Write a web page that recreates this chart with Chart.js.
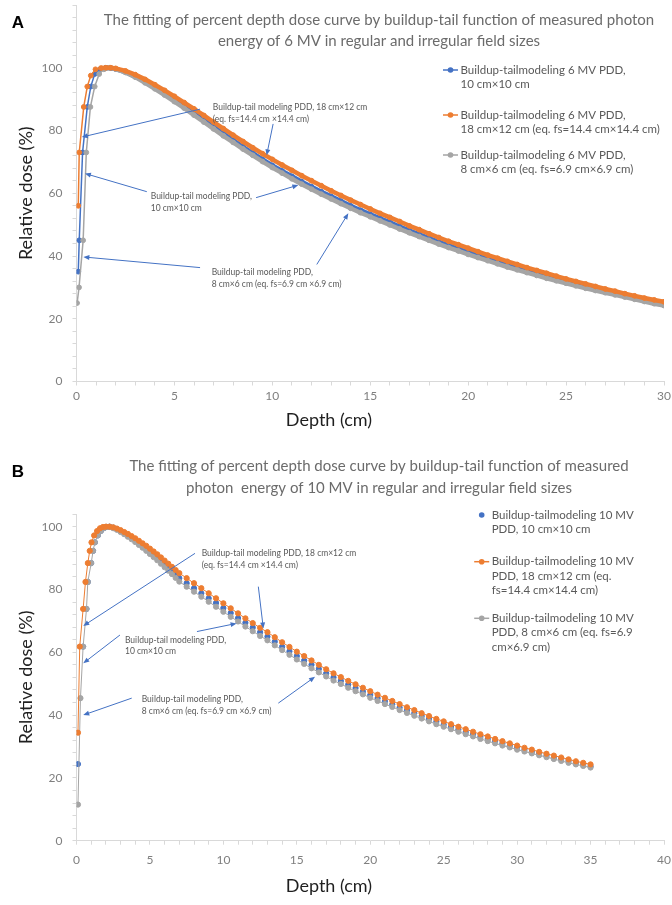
<!DOCTYPE html>
<html>
<head>
<meta charset="utf-8">
<script src="https://cdn.jsdelivr.net/npm/chart.js"></script>
<style>
  body { margin: 0; background: #fff; }
  canvas { display: block; }
</style>
</head>
<body>
<canvas id="chartA" width="672" height="445"></canvas>
<canvas id="chartB" width="672" height="460"></canvas>
<script>
// ---------- panel A : 6 MV ----------
const A_BLUE_BUILD_DEPTH = [0.09, 0.14, 0.31, 0.55, 0.73, 0.93, 1.2, 1.5, 1.75]
const A_BLUE_BUILD_DOSE = [35, 45, 73, 87.5, 94, 98, 99.5, 100, 99.9]
const A_ORANGE_BUILD_DEPTH = [0.09, 0.14, 0.37, 0.55, 0.73, 0.97, 1.25, 1.5, 1.75]
const A_ORANGE_BUILD_DOSE = [56, 73, 87.5, 94, 97.5, 99.5, 99.9, 100, 100]
const A_GRAY_BUILD_DEPTH = [0.03, 0.13, 0.34, 0.5, 0.71, 0.93, 1.16, 1.4, 1.7]
const A_GRAY_BUILD_DOSE = [25, 30, 45, 73, 87.5, 94, 98, 99.5, 100]

const A_TAIL_DEPTH = [2, 2.5, 3, 3.5, 4, 4.5, 5, 5.5, 6, 6.5, 7, 7.5, 8, 8.5, 9, 9.5, 10, 10.5, 11, 11.5,
  12, 12.5, 13, 13.5, 14, 14.5, 15, 15.5, 16, 16.5, 17, 17.5, 18, 18.5, 19, 19.5, 20, 20.5, 21, 21.5,
  22, 22.5, 23, 23.5, 24, 24.5, 25, 25.5, 26, 26.5, 27, 27.5, 28, 28.5, 29, 29.5, 30]
const A_BLUE_TAIL = [99.6, 98.6, 97.2, 95.5, 93.7, 91.8, 89.8, 87.7, 85.6, 83.4,
  81.2, 79.0, 76.9, 74.8, 72.8, 70.8, 68.9, 67.1, 65.4, 63.7,
  62.1, 60.5, 59.0, 57.5, 56.0, 54.6, 53.3, 52.0, 50.7, 49.4,
  48.1, 46.9, 45.7, 44.5, 43.4, 42.3, 41.2, 40.1, 39.1, 38.1,
  37.1, 36.2, 35.3, 34.4, 33.5, 32.6, 31.8, 31.0, 30.2, 29.4,
  28.7, 28.0, 27.3, 26.6, 25.9, 25.2, 24.6]
const A_ORANGE_TAIL = [99.8, 99.0, 97.8, 96.3, 94.6, 92.8, 90.9, 88.9, 86.9, 84.8,
  82.7, 80.6, 78.5, 76.5, 74.5, 72.6, 70.8, 69.0, 67.3, 65.6,
  64.0, 62.4, 60.8, 59.3, 57.8, 56.4, 55.0, 53.6, 52.3, 51.0,
  49.6, 48.4, 47.1, 45.9, 44.7, 43.6, 42.5, 41.4, 40.3, 39.3,
  38.3, 37.3, 36.3, 35.4, 34.5, 33.6, 32.7, 31.9, 31.1, 30.3,
  29.5, 28.8, 28.0, 27.3, 26.6, 26.0, 25.4]
const A_GRAY_TAIL = [99.6, 98.5, 97.0, 95.2, 93.3, 91.3, 89.2, 87.1, 84.9, 82.7,
  80.5, 78.3, 76.2, 74.1, 72.1, 70.1, 68.2, 66.4, 64.6, 62.9,
  61.3, 59.7, 58.2, 56.7, 55.2, 53.8, 52.5, 51.2, 49.9, 48.6,
  47.4, 46.2, 45.0, 43.8, 42.7, 41.6, 40.5, 39.5, 38.5, 37.5,
  36.5, 35.6, 34.7, 33.8, 32.9, 32.1, 31.3, 30.5, 29.7, 29.0,
  28.3, 27.6, 26.9, 26.2, 25.5, 24.8, 24.2]

// ---------- panel B : 10 MV ----------
const B_BLUE_BUILD_DEPTH = [0.1, 0.45, 0.68, 0.77, 1.0, 1.13, 1.25, 1.45, 1.65, 1.85, 2.05]
const B_BLUE_BUILD_DOSE = [24.4, 61.8, 73.8, 82.4, 88.4, 92.3, 95, 97.2, 98.6, 99.5, 99.9]
const B_ORANGE_BUILD_DEPTH = [0.1, 0.22, 0.45, 0.61, 0.77, 0.9, 1.02, 1.2, 1.4, 1.6, 1.8, 2.0]
const B_ORANGE_BUILD_DOSE = [34.4, 61.8, 73.8, 82.4, 88.4, 92.3, 95, 97.2, 98.6, 99.5, 99.9, 100]
const B_GRAY_BUILD_DEPTH = [0.1, 0.27, 0.45, 0.68, 0.77, 1.0, 1.13, 1.25, 1.45, 1.65, 1.85, 2.05]
const B_GRAY_BUILD_DOSE = [11.5, 45.4, 61.8, 73.8, 82.4, 88.4, 92.3, 95, 97.2, 98.6, 99.5, 99.9]

const B_NEAR_DEPTH = [2.25, 2.5, 2.75, 3, 3.25, 3.5, 3.75, 4, 4.25, 4.5, 4.75, 5, 5.25, 5.5, 5.75, 6, 6.25, 6.5, 6.75]
const B_BLUE_NEAR = [100, 99.7, 99.2, 98.6, 97.9, 97.2, 96.4, 95.6, 94.8, 93.9, 93.0, 92.0, 91.0, 90.0, 89.0, 88.0, 86.9, 85.8, 84.7]
const B_ORANGE_NEAR = [100, 99.8, 99.4, 98.9, 98.3, 97.7, 97.0, 96.3, 95.5, 94.7, 93.9, 93.0, 92.1, 91.2, 90.2, 89.2, 88.2, 87.2, 86.2]
const B_GRAY_NEAR = [99.9, 99.5, 99.0, 98.3, 97.6, 96.8, 96.0, 95.1, 94.2, 93.3, 92.3, 91.3, 90.3, 89.3, 88.2, 87.1, 86.0, 84.9, 83.7]

const B_TAIL_DEPTH = [7, 7.5, 8, 8.5, 9, 9.5, 10, 10.5, 11, 11.5, 12, 12.5, 13, 13.5, 14, 14.5, 15, 15.5, 16, 16.5,
  17, 17.5, 18, 18.5, 19, 19.5, 20, 20.5, 21, 21.5, 22, 22.5, 23, 23.5, 24, 24.5, 25, 25.5, 26, 26.5,
  27, 27.5, 28, 28.5, 29, 29.5, 30, 30.5, 31, 31.5, 32, 32.5, 33, 33.5, 34, 34.5, 35]
const B_BLUE_TAIL = [83.6, 82.0, 80.4, 78.8, 77.2, 75.7, 74.1, 72.5, 70.9, 69.4,
  67.9, 66.4, 65.0, 63.4, 61.8, 60.3, 58.8, 57.4, 56.0, 54.7,
  53.3, 52.0, 50.9, 49.7, 48.6, 47.5, 46.4, 45.4, 44.4, 43.4,
  42.4, 41.5, 40.6, 39.7, 38.8, 37.9, 37.0, 36.2, 35.4, 34.6,
  33.9, 33.1, 32.4, 31.7, 31.0, 30.3, 29.6, 29.0, 28.3, 27.7,
  27.1, 26.5, 26.0, 25.4, 24.8, 24.2, 23.7]
const B_ORANGE_TAIL = [85.2, 83.6, 82.0, 80.4, 78.8, 77.2, 75.6, 74.0, 72.4, 70.8,
  69.3, 67.8, 66.4, 64.8, 63.2, 61.7, 60.2, 58.8, 57.4, 56.0,
  54.6, 53.3, 52.1, 50.9, 49.8, 48.7, 47.6, 46.5, 45.5, 44.5,
  43.5, 42.5, 41.6, 40.6, 39.7, 38.8, 38.0, 37.1, 36.3, 35.5,
  34.7, 33.9, 33.2, 32.4, 31.7, 31.0, 30.3, 29.6, 29.0, 28.3,
  27.7, 27.1, 26.5, 25.9, 25.3, 24.8, 24.3]
const B_GRAY_TAIL = [82.5, 80.9, 79.3, 77.7, 76.1, 74.5, 72.9, 71.3, 69.8, 68.2,
  66.7, 65.2, 63.8, 62.2, 60.7, 59.2, 57.7, 56.3, 54.9, 53.6,
  52.3, 51.0, 49.9, 48.7, 47.6, 46.6, 45.5, 44.5, 43.5, 42.6,
  41.6, 40.7, 39.8, 38.9, 38.0, 37.1, 36.3, 35.5, 34.7, 33.9,
  33.2, 32.4, 31.7, 31.0, 30.3, 29.7, 29.0, 28.4, 27.8, 27.2,
  26.6, 26.0, 25.4, 24.8, 24.3, 23.8, 23.3]

// ---------- texts ----------
const TITLE_A = ['The fitting of percent depth dose curve by buildup-tail function of measured photon',
  'energy of 6 MV in regular and irregular field sizes']
const TITLE_B = ['The fitting of percent depth dose curve by buildup-tail function of measured',
  'photon  energy of 10 MV in regular and irregular field sizes']

const LEGEND_A = [
  ['Buildup-tailmodeling 6 MV PDD,', '10 cm\u00d710 cm'],
  ['Buildup-tailmodeling 6 MV PDD,', '18 cm\u00d712 cm (eq. fs=14.4 cm\u00d714.4 cm)'],
  ['Buildup-tailmodeling 6 MV PDD,', '8 cm\u00d76 cm (eq. fs=6.9 cm\u00d76.9 cm)']
]
const LEGEND_B = [
  ['Buildup-tailmodeling 10 MV', 'PDD, 10 cm\u00d710 cm'],
  ['Buildup-tailmodeling 10 MV', 'PDD, 18 cm\u00d712 cm (eq.', 'fs=14.4 cm\u00d714.4 cm)'],
  ['Buildup-tailmodeling 10 MV', 'PDD, 8 cm\u00d76 cm (eq. fs=6.9', 'cm\u00d76.9 cm)']
]

// callouts, anchored in data units (depth, dose)
const NOTES_A = [
  {at: [6.96, 87.4], lines: ['Buildup-tail modeling PDD, 18 cm\u00d712 cm', '(eq. fs=14.4 cm \u00d714.4 cm)'],
   arrows: [[6.31, 86.8, 0.27, 77.9], [10.04, 82.1, 9.71, 72.1]]},
  {at: [3.79, 58.9], lines: ['Buildup-tail modeling PDD,', '10 cm\u00d710 cm'],
   arrows: [[3.59, 60.5, 0.43, 66.3], [9.17, 58.6, 11.33, 62.6]]},
  {at: [6.9, 34.7], lines: ['Buildup-tail modeling PDD,', '8 cm\u00d76 cm (eq. fs=6.9 cm \u00d76.9 cm)'],
   arrows: [[6.31, 36.3, 0.35, 39.7], [12.27, 37.3, 13.88, 53.6]]}
]
const NOTES_B = [
  {at: [8.52, 91.5], lines: ['Buildup-tail modeling PDD, 18 cm\u00d712 cm', '(eq. fs=14.4 cm \u00d714.4 cm)'],
   arrows: [[8.07, 91.5, 0.46, 68.4], [12.38, 80.9, 12.72, 67.6]]},
  {at: [3.3, 63.9], lines: ['Buildup-tail modeling PDD,', '10 cm\u00d710 cm'],
   arrows: [[2.96, 65.5, 0.46, 56.5], [8.2, 66.6, 10.9, 69.2]]},
  {at: [4.44, 45.1], lines: ['Buildup-tail modeling PDD,', '8 cm\u00d76 cm (eq. fs=6.9 cm \u00d76.9 cm)'],
   arrows: [[3.76, 45.4, 0.46, 40], [13.74, 43.8, 16.24, 52.2]]}
]

const BLUE = '#4472c4', ORANGE = '#ed7d31', GRAY = '#a5a5a5'

Chart.defaults.font.family = 'Lato'

const pts = (xs, ys) => xs.map((x, i) => ({x, y: ys[i]}))

function arrow(ctx, x0, y0, x1, y1) {
  const a = Math.atan2(y1 - y0, x1 - x0), c = Math.cos(a), s = Math.sin(a)
  ctx.beginPath()
  ctx.moveTo(x0, y0)
  ctx.lineTo(x1 - 4 * c, y1 - 4 * s)
  ctx.stroke()
  ctx.beginPath()
  ctx.moveTo(x1, y1)
  ctx.lineTo(x1 - 6 * c + 2.5 * s, y1 - 6 * s - 2.5 * c)
  ctx.lineTo(x1 - 6 * c - 2.5 * s, y1 - 6 * s + 2.5 * c)
  ctx.closePath()
  ctx.fill()
}

const decor = {
  id: 'decor',
  afterDatasetsDraw(chart, args, o) {
    const {ctx, scales: {x, y}} = chart
    ctx.save()
    ctx.font = '8.5px Lato'
    ctx.fillStyle = '#595959'
    ctx.strokeStyle = BLUE
    ctx.lineWidth = 1
    ctx.textBaseline = 'middle'
    ctx.textAlign = 'left'
    for (const n of o.notes) {
      const tx = x.getPixelForValue(n.at[0]), ty = y.getPixelForValue(n.at[1])
      n.lines.forEach((t, i) => ctx.fillText(t, tx, ty + i * 11.7))
    }
    ctx.fillStyle = BLUE
    for (const n of o.notes) {
      for (const [x0, y0, x1, y1] of n.arrows) {
        arrow(ctx, x.getPixelForValue(x0), y.getPixelForValue(y0), x.getPixelForValue(x1), y.getPixelForValue(y1))
      }
    }
    ctx.restore()
  },
  afterDraw(chart, args, o) {
    const {ctx} = chart
    ctx.save()
    ctx.textBaseline = 'middle'
    ctx.textAlign = 'center'
    ctx.fillStyle = '#000'
    ctx.font = 'bold 17px "Liberation Sans"'
    ctx.fillText(o.letter, 18, o.letterY)
    ctx.fillStyle = '#6b6b6b'
    ctx.font = '15px Lato'
    o.title.forEach((t, i) => ctx.fillText(t, 379, o.titleY[i]))
    ctx.fillStyle = '#1f1f1f'
    ctx.font = '18px Lato'
    ctx.fillText('Depth (cm)', 329, o.xTitleY)

    // legend
    ctx.textAlign = 'left'
    ctx.font = '11.5px Lato'
    o.legend.forEach((item, k) => {
      const cx = o.legendX, cy = o.legendY[k], color = o.colors[k]
      if (o.legendLine[k]) {
        ctx.strokeStyle = color
        ctx.lineWidth = 1.5
        ctx.beginPath()
        ctx.moveTo(cx - 7.5, cy)
        ctx.lineTo(cx + 7.5, cy)
        ctx.stroke()
      }
      ctx.fillStyle = color
      ctx.beginPath()
      ctx.arc(cx, cy, 2.8, 0, Math.PI * 2)
      ctx.fill()
      ctx.fillStyle = '#595959'
      item.forEach((t, i) => ctx.fillText(t, cx + 10, cy + i * 14.3))
    })
    ctx.restore()
  }
}

function axes(xMax, yMax, xHeight, xPad) {
  const grid = {drawOnChartArea: false, color: '#d9d9d9', tickLength: 4}
  const border = {color: '#d9d9d9'}
  return {
    x: {
      type: 'linear', min: 0, max: xMax, grid, border,
      ticks: {stepSize: 1, autoSkip: false, maxRotation: 0, padding: xPad, color: '#7f7f7f', font: {size: 12},
        callback: v => v % 5 === 0 ? v : ''},
      afterFit: s => { s.height = xHeight; s.paddingLeft = 0; s.paddingRight = 0 }
    },
    y: {
      min: 0, max: yMax, grid, border,
      ticks: {stepSize: 4, autoSkip: false, padding: 10, color: '#7f7f7f', font: {size: 12},
        callback: v => v % 20 === 0 && v <= 100 ? v : ''},
      title: {display: true, text: 'Relative dose (%)', color: '#1f1f1f', font: {size: 18}, padding: {top: 15, bottom: 0}},
      afterFit: s => { s.width = 76.5; s.paddingTop = 0; s.paddingBottom = 0 }
    }
  }
}

function series(label, color, data, order, opts) {
  return Object.assign({
    label, data, order,
    showLine: true,
    borderColor: color,
    backgroundColor: color,
    pointBackgroundColor: color,
    pointBorderColor: color,
    pointBorderWidth: 1,
  }, opts)
}

// thin line in the build-up region, dense band after the maximum
const bandA = {pointRadius: 2.4, borderWidth: 1.5, segment: {borderWidth: c => c.p0.parsed.x >= 1.2 ? 4.5 : 1.5}}

new Chart(document.getElementById('chartA'), {
  type: 'scatter',
  data: {
    datasets: [
      series(LEGEND_A[0].join(' '), BLUE,
        pts(A_BLUE_BUILD_DEPTH, A_BLUE_BUILD_DOSE).concat(pts(A_TAIL_DEPTH, A_BLUE_TAIL)), 3, bandA),
      series(LEGEND_A[1].join(' '), ORANGE,
        pts(A_ORANGE_BUILD_DEPTH, A_ORANGE_BUILD_DOSE).concat(pts(A_TAIL_DEPTH, A_ORANGE_TAIL)), 1, bandA),
      series(LEGEND_A[2].join(' '), GRAY,
        pts(A_GRAY_BUILD_DEPTH, A_GRAY_BUILD_DOSE).concat(pts(A_TAIL_DEPTH, A_GRAY_TAIL)), 2, bandA)
    ]
  },
  options: {
    responsive: false,
    animation: false,
    events: [],
    layout: {padding: {top: 1.7, right: 8, left: 0, bottom: 0}},
    scales: axes(30, 120, 63.5, 3.3),
    plugins: {
      legend: {display: false},
      tooltip: {enabled: false},
      decor: {
        letter: 'A', letterY: 23, title: TITLE_A, titleY: [20, 41], xTitleY: 420,
        legend: LEGEND_A, legendX: 450.5, legendY: [70, 115, 155], legendLine: [true, true, true],
        colors: [BLUE, ORANGE, GRAY], notes: NOTES_A
      }
    }
  },
  plugins: [decor]
})

const dotsB = {pointRadius: 2.6, borderWidth: 1}

new Chart(document.getElementById('chartB'), {
  type: 'scatter',
  data: {
    datasets: [
      series(LEGEND_B[0].join(' '), BLUE,
        pts(B_BLUE_BUILD_DEPTH, B_BLUE_BUILD_DOSE).concat(pts(B_NEAR_DEPTH, B_BLUE_NEAR), pts(B_TAIL_DEPTH, B_BLUE_TAIL)),
        3, Object.assign({}, dotsB, {showLine: false})),
      series(LEGEND_B[1].join(' '), ORANGE,
        pts(B_ORANGE_BUILD_DEPTH, B_ORANGE_BUILD_DOSE).concat(pts(B_NEAR_DEPTH, B_ORANGE_NEAR), pts(B_TAIL_DEPTH, B_ORANGE_TAIL)),
        1, dotsB),
      series(LEGEND_B[2].join(' '), GRAY,
        pts(B_GRAY_BUILD_DEPTH, B_GRAY_BUILD_DOSE).concat(pts(B_NEAR_DEPTH, B_GRAY_NEAR), pts(B_TAIL_DEPTH, B_GRAY_TAIL)),
        2, dotsB)
    ]
  },
  options: {
    responsive: false,
    animation: false,
    events: [],
    layout: {padding: {top: 69.1, right: 8, left: 0, bottom: 0}},
    scales: axes(40, 104, 64.3, 8),
    plugins: {
      legend: {display: false},
      tooltip: {enabled: false},
      decor: {
        letter: 'B', letterY: 27, title: TITLE_B, titleY: [21, 43], xTitleY: 441,
        legend: LEGEND_B, legendX: 481.7, legendY: [70, 116.7, 173.3], legendLine: [false, true, true],
        colors: [BLUE, ORANGE, GRAY], notes: NOTES_B
      }
    }
  },
  plugins: [decor]
})
</script>
</body>
</html>
